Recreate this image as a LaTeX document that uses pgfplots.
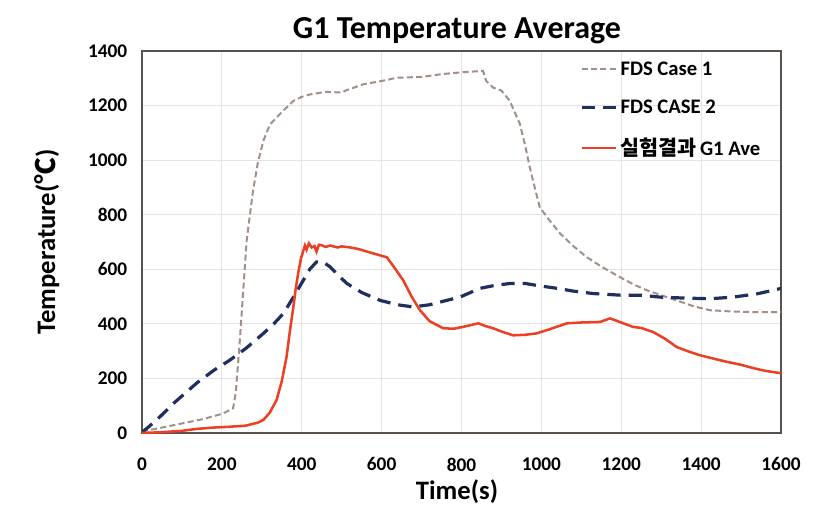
\documentclass[border=0pt]{standalone}
\usepackage{fontspec}
\setmainfont{Carlito}
\newfontfamily\kr{Noto Sans CJK KR}
\newfontfamily\krb{Noto Sans CJK KR Bold}
\usepackage{pgfplots}
\pgfplotsset{compat=1.18}

\definecolor{caseone}{HTML}{A09088}
\definecolor{casetwo}{HTML}{1F2F5F}
\definecolor{expred}{HTML}{EC4025}
\definecolor{frame}{HTML}{5A524C}
\definecolor{gridc}{HTML}{E4E4E4}

\begin{document}
\begin{tikzpicture}
% fix page to 827x518 px at 0.75pt per px
\useasboundingbox (-106.5pt,-63.75pt) rectangle (513.75pt,324.75pt);
\begin{axis}[
  scale only axis, width=479.25pt, height=286.5pt,
  xmin=0, xmax=1600, ymin=0, ymax=1400,
  xtick distance=200, ytick distance=200,
  grid=major, grid style={gridc, line width=0.6pt},
  axis line style={frame, line width=1.6pt},
  major tick length=0pt,
  /pgf/number format/assume math mode=true,
  /pgf/number format/1000 sep={},
  ticklabel style={font=\bfseries\fontsize{14.5}{16}\selectfont},
  xticklabel style={yshift=-15pt},
  yticklabel style={xshift=-7.5pt},
  title={G1 Temperature Average},
  title style={font=\bfseries\fontsize{24}{28}\selectfont, at={(axis description cs:0.493,1.032)}, anchor=center},
  xlabel={Time(s)},
  xlabel style={font=\bfseries\fontsize{20}{24}\selectfont, at={(axis description cs:0.493,-0.154)}, anchor=center},
  ylabel={Temperature({\kr ℃})},
  ylabel style={font=\bfseries\fontsize{20}{24}\selectfont, at={(axis description cs:-0.149,0.5)}, anchor=center},
  legend style={draw=none, fill=none, at={(axis description cs:0.685,0.98)}, anchor=north west,
    font=\bfseries\fontsize{15.5}{18}\selectfont, row sep=13pt, inner sep=0pt},
  legend cell align=left,
  legend image code/.code={\draw[#1] (0pt,0pt) -- (26pt,0pt);},
]
\addplot[caseone, line width=1.5pt, dash pattern=on 4.5pt off 2.5pt] coordinates {
(0,5) (50,20) (100,35) (150,50) (200,70) (228,90) (235,150) (245,340) (262,705)
(278,888) (290,990) (304,1071) (320,1130) (346,1170) (379,1217) (400,1232) (421,1241)
(460,1250) (500,1248) (510,1255) (554,1278) (600,1290) (638,1302) (700,1305) (750,1315)
(800,1322) (854,1327) (862,1290) (879,1266) (900,1255) (921,1217) (946,1133) (960,1050)
(971,973) (985,890) (996,827) (1020,780) (1047,731) (1080,685) (1114,644) (1150,610)
(1197,571) (1230,545) (1264,523) (1300,505) (1339,486) (1380,465) (1422,450) (1480,445)
(1540,443) (1600,443)
};
\addlegendentry{FDS Case 1}
\addplot[casetwo, line width=2.4pt, dash pattern=on 10pt off 6pt] coordinates {
(0,2) (37,48) (80,110) (137,183) (180,230) (220,267) (260,310) (304,365) (330,400)
(354,438) (380,500) (404,560) (420,600) (437,627) (455,625) (471,609) (490,580)
(513,548) (550,515) (596,486) (640,470) (679,462) (720,470) (763,486) (796,498)
(846,530) (880,540) (921,548) (960,548) (988,541) (1040,530) (1080,520) (1130,511)
(1200,505) (1250,505) (1297,498) (1350,495) (1422,492) (1480,498) (1540,510)
(1580,523) (1600,530)
};
\addlegendentry{FDS CASE 2}
\addplot[expred, line width=1.9pt] coordinates {
(0,0) (50,3) (100,8) (137,15) (180,20) (220,23) (260,27) (290,38) (304,48) (320,75)
(337,121) (350,190) (362,279) (370,370) (379,462) (385,530) (391,585) (398,640)
(408,687) (412,672) (418,695) (425,680) (432,685) (437,665) (443,690) (450,688)
(460,682) (471,687) (490,680) (500,684) (521,680) (540,675) (570,662) (596,651)
(613,644) (630,610) (654,560) (675,500) (696,450) (720,410) (754,384) (780,382)
(804,389) (825,396) (842,402) (860,392) (879,384) (900,372) (929,358) (960,360)
(988,365) (1020,380) (1064,402) (1100,405) (1147,407) (1172,420) (1200,405)
(1229,389) (1250,385) (1280,370) (1310,345) (1339,315) (1370,298) (1397,285)
(1430,273) (1464,261) (1500,250) (1530,238) (1560,228) (1600,219)
};
\addlegendentry{{\krb 실험결과}\,G1 Ave}
\end{axis}
\end{tikzpicture}
\end{document}
